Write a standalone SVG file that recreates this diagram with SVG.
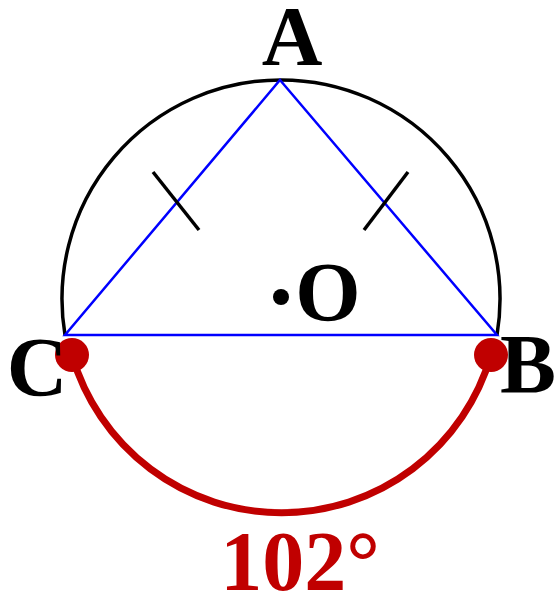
<svg xmlns="http://www.w3.org/2000/svg" width="558" height="594" viewBox="0 0 558 594">
<style>
.lbl{font-family:"Liberation Serif","Times New Roman",serif;font-weight:bold;font-size:84px;fill:#000}
.red{fill:#c00000}
.tri{fill:none;stroke:#0000ff;stroke-width:2.5;stroke-linejoin:miter}
.tick{stroke:#000;stroke-width:3.5;fill:none}
</style>
<rect width="558" height="594" fill="#fff"/>
<g id="circle">
<path d="M65,335 A219,219 0 1 1 497,335" fill="none" stroke="#000" stroke-width="3.5"/>
</g>
<g id="connectors">
<path class="tri" d="M280,80 L497,335 L65,335 Z"/>
<line class="tick" x1="153" y1="172" x2="199" y2="230"/>
<line class="tick" x1="408" y1="172" x2="364" y2="230"/>
</g>
<g id="arc-CB">
<path d="M72,355 A218,218 0 0 0 491,355" fill="none" stroke="#c00000" stroke-width="7"/>
<circle cx="72" cy="355" r="17" fill="#c00000"/>
<circle cx="491" cy="355" r="17" fill="#c00000"/>
<text class="lbl red" x="300" y="590" text-anchor="middle">102°</text>
</g>
<g id="node-A"><text class="lbl" x="292" y="65" text-anchor="middle">A</text></g>
<g id="node-B"><text class="lbl" x="528" y="393" text-anchor="middle">B</text></g>
<g id="node-C"><text class="lbl" x="37" y="396" text-anchor="middle">C</text></g>
<g id="node-O">
<circle cx="281" cy="297" r="8" fill="#000"/>
<text class="lbl" x="328" y="321" text-anchor="middle">O</text>
</g>
</svg>
